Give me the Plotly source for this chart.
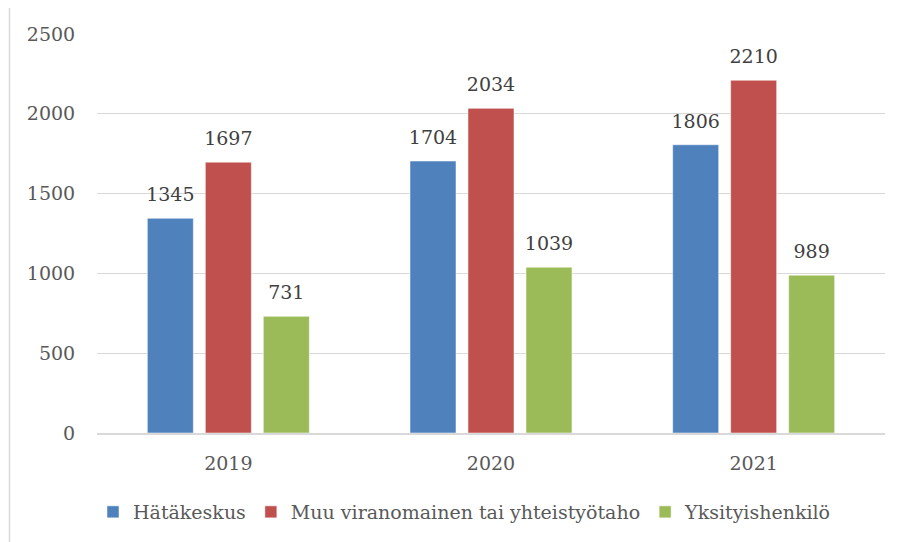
import plotly.graph_objects as go

categories = ["2019", "2020", "2021"]
series_names = ["Hätäkeskus", "Muu viranomainen tai yhteistyötaho", "Yksityishenkilö"]
hatakeskus = [1345, 1704, 1806]
muu_viranomainen = [1697, 2034, 2210]
yksityishenkilo = [731, 1039, 989]
y_ticks = [0, 500, 1000, 1500, 2000, 2500]

series_values = [hatakeskus, muu_viranomainen, yksityishenkilo]
colors = ["#4F81BD", "#C0504D", "#9BBB59"]

FONT = "DejaVu Serif"
OFF = 8  # page body margin offset
W, H = 901 - OFF, 542 - OFF
ML, MR, MT, MB = 97 - OFF, 16, 34 - OFF, 108
BARGAP = 0.3376
BARGROUPGAP = 0.207

plot_w = W - ML - MR
plot_h = H - MT - MB
to_px = lambda page_x: (page_x - OFF - ML) / plot_w          # page x -> paper x
to_py = lambda page_y: (H - MB - (page_y - OFF)) / plot_h    # page y -> paper y

fig = go.Figure()
for k, (name, vals, col) in enumerate(zip(series_names, series_values, colors)):
    fig.add_trace(go.Bar(
        x=categories, y=vals, name=name, offsetgroup=str(k),
        marker=dict(color=col, line=dict(color="#FFFFFF", width=0.5)),
    ))
# value labels, grouped like the bars
for k, vals in enumerate(series_values):
    fig.add_trace(go.Scatter(
        x=categories, y=vals, mode="markers+text", offsetgroup=str(k),
        text=[str(v) for v in vals], textposition="top center",
        marker=dict(size=18, opacity=0, color="white"),
        textfont=dict(family=FONT, size=19, color="#404040"),
        showlegend=False, hoverinfo="skip", cliponaxis=False,
    ))

shapes = [
    dict(type="line", xref="paper", yref="paper",
         x0=to_px(9.5), y0=to_py(560), x1=to_px(9.5), y1=to_py(6.5),
         line=dict(color="#D9D9D9", width=1.5)),
    dict(type="line", xref="paper", yref="paper",
         x0=to_px(9.5), y0=to_py(6.5), x1=to_px(920), y1=to_py(6.5),
         line=dict(color="#D9D9D9", width=1.5)),
]

fig.update_layout(
    width=W, height=H,
    margin=dict(l=ML, r=MR, t=MT, b=MB),
    paper_bgcolor="white", plot_bgcolor="white",
    barmode="group", bargap=BARGAP, bargroupgap=BARGROUPGAP,
    scattermode="group", scattergap=BARGAP,
    font=dict(family=FONT, size=19, color="#595959"),
    legend=dict(orientation="h", x=0.467, xanchor="center", y=to_py(512), yanchor="middle",
                font=dict(family=FONT, size=19, color="#595959")),
    shapes=shapes,
)
fig.update_yaxes(range=[0, 2500], tickvals=y_ticks, showgrid=True, gridcolor="#D9D9D9",
                 zeroline=False, ticks="outside", ticklen=17, tickcolor="white")
fig.update_xaxes(showline=True, linecolor="#D9D9D9", linewidth=1.5,
                 ticks="outside", ticklen=12, tickcolor="white")

fig.write_html("out.html")
